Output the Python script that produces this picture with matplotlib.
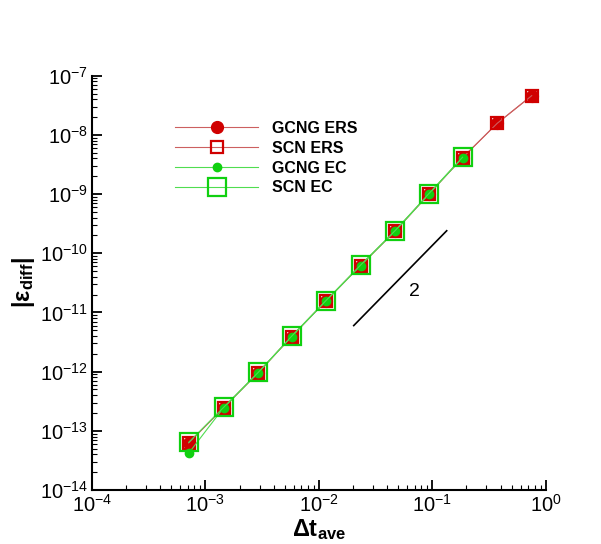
import matplotlib
matplotlib.use("Agg")
import matplotlib.pyplot as plt
from matplotlib.ticker import LogLocator, FixedLocator, NullFormatter

plt.rcParams['font.family'] = ['Liberation Sans', 'DejaVu Sans']
plt.rcParams['mathtext.fontset'] = 'custom'
plt.rcParams['mathtext.rm'] = 'Liberation Sans'
plt.rcParams['mathtext.it'] = 'Liberation Sans:italic'
plt.rcParams['mathtext.bf'] = 'Liberation Sans:bold'

# Data
dt_ers = [7.13e-4, 1.45e-3, 2.92e-3, 5.74e-3, 1.153e-2, 2.33e-2, 4.71e-2, 9.34e-2, 0.185, 0.374, 0.753]
err_gcng_ers = [6.25e-14, 2.47e-13, 9.6e-13, 3.9e-12, 1.56e-11, 6.2e-11, 2.38e-10, 1.0e-9, 4.12e-9, 1.57e-8, 4.6e-8]
err_scn_ers = [6.25e-14, 2.47e-13, 9.6e-13, 3.9e-12, 1.56e-11, 6.2e-11, 2.38e-10, 1.0e-9, 4.12e-9, 1.57e-8, 4.6e-8]
dt_ec = [7.13e-4, 1.45e-3, 2.92e-3, 5.74e-3, 1.153e-2, 2.33e-2, 4.71e-2, 9.34e-2, 0.185]
err_gcng_ec = [4.2e-14, 2.47e-13, 9.6e-13, 3.9e-12, 1.56e-11, 6.2e-11, 2.38e-10, 1.0e-9, 4.12e-9]
err_scn_ec = [6.4e-14, 2.5e-13, 9.7e-13, 3.95e-12, 1.58e-11, 6.3e-11, 2.42e-10, 1.02e-9, 4.2e-9]
labels = ['GCNG ERS', 'SCN ERS', 'GCNG EC', 'SCN EC']

slope_x = [0.0203, 0.134]
slope_y = [6.0e-12, 2.4e-10]
slope_label = '2'
slope_label_pos = (0.070, 2.3e-11)

xticks = [1e-4, 1e-3, 1e-2, 1e-1, 1e0]
xticklabels = [r'$\mathregular{10^{-4}}$', r'$\mathregular{10^{-3}}$', r'$\mathregular{10^{-2}}$',
               r'$\mathregular{10^{-1}}$', r'$\mathregular{10^{0}}$']
yticks = [1e-14, 1e-13, 1e-12, 1e-11, 1e-10, 1e-9, 1e-8, 1e-7]
yticklabels = [r'$\mathregular{10^{%d}}$' % e for e in range(-14, -6)]

fig = plt.figure(figsize=(6.01, 5.44), dpi=100)
ax = fig.add_axes([92 / 601, 1 - 490 / 544, (545.7 - 92) / 601, (490 - 75.7) / 544])

red_line = '#cc6060'
green_line = '#50dd50'
red = '#d00000'
green = '#10d010'

ax.plot(dt_ers, err_gcng_ers, '-', color=red_line, lw=0.8, marker='o', ms=8.5,
        mfc=red, mec=red, label=labels[0])
ax.plot(dt_ers, err_scn_ers, '-', color=red_line, lw=0.8, marker='s', ms=8.5,
        mfc='none', mec=red, mew=1.6, label=labels[1])
ax.plot(dt_ec, err_gcng_ec, '-', color=green_line, lw=0.8, marker='o', ms=6,
        mfc=green, mec=green, label=labels[2])
ax.plot(dt_ec, err_scn_ec, '-', color=green_line, lw=0.8, marker='s', ms=12.5,
        mfc='none', mec=green, mew=1.6, label=labels[3])

ax.plot(slope_x, slope_y, '-', color='black', lw=1.2)
ax.text(slope_label_pos[0], slope_label_pos[1], slope_label, fontsize=14,
        ha='center', va='center')

ax.set_xscale('log')
ax.set_yscale('log')
ax.set_xlim(1e-4, 1e0)
ax.set_ylim(1e-14, 1e-7)

ax.xaxis.set_major_locator(FixedLocator(xticks))
ax.set_xticklabels(xticklabels)
ax.yaxis.set_major_locator(FixedLocator(yticks))
ax.set_yticklabels(yticklabels)
ax.xaxis.set_minor_locator(LogLocator(base=10, subs=range(2, 10), numticks=20))
ax.yaxis.set_minor_locator(LogLocator(base=10, subs=range(2, 10), numticks=20))
ax.xaxis.set_minor_formatter(NullFormatter())
ax.yaxis.set_minor_formatter(NullFormatter())

ax.spines['top'].set_visible(False)
ax.spines['right'].set_visible(False)
ax.spines['left'].set_linewidth(1.5)
ax.spines['bottom'].set_linewidth(1.5)
ax.tick_params(which='major', direction='in', length=7, width=1.3, labelsize=14.5, pad=3)
ax.tick_params(which='minor', direction='in', length=3.5, width=0.8)
ax.tick_params(axis='both', which='both', top=False, right=False)

ax.set_xlabel(r'$\mathbf{Δt_{ave}}$', fontsize=17, labelpad=1)
ax.set_ylabel(r'$\mathbf{|ε_{diff}|}$', fontsize=17, labelpad=2)

leg = ax.legend(loc='upper left', bbox_to_anchor=(175 / 601, 1 - 121 / 544),
                bbox_transform=fig.transFigure, frameon=False, borderpad=0,
                borderaxespad=0, handlelength=5.2, handletextpad=0.9,
                labelspacing=0.3, prop={'family': 'Liberation Sans', 'weight': 'bold', 'size': 11.5})

fig.savefig('out.png', dpi=100)
